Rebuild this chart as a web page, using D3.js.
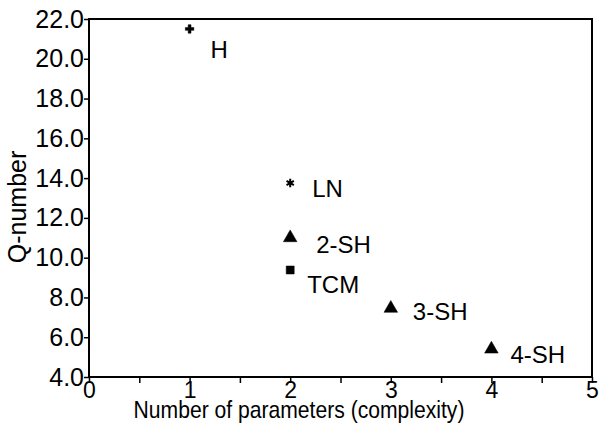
<!DOCTYPE html>
<html>
<head>
<meta charset="utf-8">
<script src="https://cdn.jsdelivr.net/npm/d3@7"></script>
<style>
  body { margin: 0; background: #fff; }
  svg { display: block; font-family: 'Liberation Sans', Arial, sans-serif; }
</style>
</head>
<body>
<div id="chart"></div>
<script>
// data
const models = ['H', 'LN', '2-SH', 'TCM', '3-SH', '4-SH']
const params = [1, 2, 2, 2, 3, 4]
const qNumber = [21.5, 13.75, 11.0, 9.38, 7.45, 5.4]
const markers = ['plus', 'star', 'triangle', 'square', 'triangle', 'triangle']
const xTicks = [0, 1, 2, 3, 4, 5]
const yTicks = [4, 6, 8, 10, 12, 14, 16, 18, 20, 22]

const width = 600
const height = 428
const margin = { TOP: 19, RIGHT: 8, BOTTOM: 51, LEFT: 89 }

// label offsets from the marker (px)
const labelOffset = {
  H: [21, 27],
  LN: [22, 12],
  '2-SH': [26, 13],
  TCM: [17, 21],
  '3-SH': [22, 10],
  '4-SH': [19, 12],
}

const svg = d3.select('#chart').append('svg').attr('width', width).attr('height', height)

const x = d3.scaleLinear().domain([0, 5]).range([margin.LEFT, width - margin.RIGHT])
const y = d3.scaleLinear().domain([4, 22]).range([height - margin.BOTTOM, margin.TOP])

// frame
svg
  .append('rect')
  .attr('x', x(0))
  .attr('y', y(22))
  .attr('width', x(5) - x(0))
  .attr('height', y(4) - y(22))
  .attr('fill', 'none')
  .attr('stroke', '#000')
  .attr('stroke-width', 2)

const xAxis = g =>
  g
    .attr('transform', `translate(0, ${y(4)})`)
    .call(d3.axisBottom(x).tickValues(xTicks).tickSize(6).tickPadding(-1).tickFormat(d3.format('d')))
    .call(g => g.select('.domain').remove())
    .call(g => g.selectAll('line').attr('stroke-width', 1.5))
    .call(g => g.selectAll('text').attr('font-size', 23).attr('fill', '#000'))

const xMinor = g =>
  g
    .attr('transform', `translate(0, ${y(4)})`)
    .call(d3.axisBottom(x).tickValues([0.5, 1.5, 2.5, 3.5, 4.5]).tickSize(6).tickFormat(''))
    .call(g => g.select('.domain').remove())
    .call(g => g.selectAll('line').attr('stroke-width', 1.5))

const yAxis = g =>
  g
    .attr('transform', `translate(${x(0)}, 0)`)
    .call(d3.axisLeft(y).tickValues(yTicks).tickSize(5).tickPadding(0).tickFormat(d3.format('.1f')))
    .call(g => g.select('.domain').remove())
    .call(g => g.selectAll('line').attr('stroke-width', 1.5))
    .call(g => g.selectAll('text').attr('font-size', 25).attr('fill', '#000'))

svg.append('g').call(xMinor)
svg.append('g').call(xAxis)
svg.append('g').call(yAxis)

svg
  .append('text')
  .attr('transform', 'translate(299, 418) scale(0.88, 1)')
  .attr('text-anchor', 'middle')
  .attr('font-size', 24)
  .text('Number of parameters (complexity)')

svg
  .append('text')
  .attr('transform', `translate(26, 207) rotate(-90)`)
  .attr('text-anchor', 'middle')
  .attr('font-size', 25)
  .text('Q-number')

const symbolType = {
  plus: d3.symbolCross,
  star: d3.symbolAsterisk,
  triangle: d3.symbolTriangle,
  square: d3.symbolSquare,
}
const symbolSize = { plus: 40, star: 50, triangle: 80, square: 64 }

const points = models.map((m, i) => ({ m, x: params[i], y: qNumber[i], marker: markers[i] }))

const pt = svg
  .append('g')
  .selectAll('g')
  .data(points)
  .join('g')
  .attr('transform', d => `translate(${x(d.x)}, ${y(d.y)})`)

pt.append('path')
  .attr('d', d => d3.symbol(symbolType[d.marker], symbolSize[d.marker])())
  .attr('fill', '#000')
  .attr('stroke', '#000')
  .attr('stroke-width', d => (d.marker === 'star' ? 2 : 0.5))

pt.append('text')
  .attr('x', d => labelOffset[d.m][0])
  .attr('y', d => labelOffset[d.m][1] + 2)
  .attr('font-size', 24)
  .text(d => d.m)
</script>
</body>
</html>
